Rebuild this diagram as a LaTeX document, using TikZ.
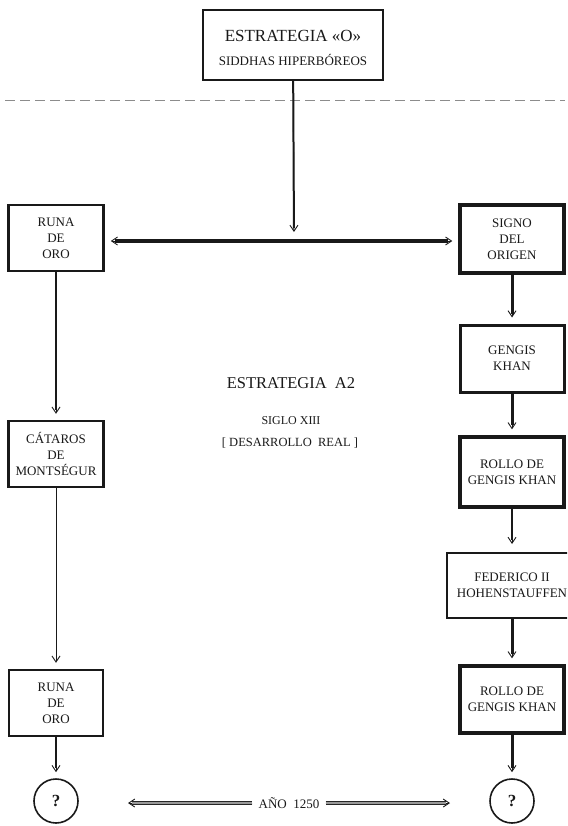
\documentclass[tikz,border=0pt]{standalone}
\usepackage{fontspec}
\setmainfont{Liberation Serif}
\usetikzlibrary{arrows.meta}
\begin{document}
\begin{tikzpicture}[x=1pt,y=-1pt,
  box/.style={draw=black!90, fill=white, inner sep=0pt, align=center, text=black!90,
              font=\fontsize{13}{16}\selectfont},
  txt/.style={inner sep=0pt, text=black!90, anchor=base},
  circ/.style={draw=black!90, circle, minimum size=44pt, inner sep=0pt, line width=1.6pt,
               text=black!90, font=\fontsize{17}{20}\selectfont\bfseries},
  arr/.style={draw=black!90, line width=0.9pt, -{Straight Barb[length=6pt,width=8pt]}, shorten >=6pt},
  bar/.style={draw=black!90, line width=#1, shorten >=10pt},
  dbl/.style={draw=black!85, double=black!40, double distance=1.5pt, line width=1pt, shorten >=4pt},
]
\useasboundingbox (0,0) rectangle (567,826);
\clip (0,0) rectangle (567,826);

% top box
\node[box, line width=2.4pt, minimum width=180pt, minimum height=70pt] (top) at (293,45) {};
\node[txt, font=\fontsize{17}{20}\selectfont] (topA) at (293,42) {ESTRATEGIA «O»};
\node[txt, font=\fontsize{13}{16}\selectfont] (topB) at (293,66) {SIDDHAS HIPERBÓREOS};

% dashed separator
\draw[black!45, line width=1pt, dash pattern=on 10pt off 5pt] (5,101) -- (565,101);

% left column
\node[box, line width=2.5pt, minimum width=95pt, minimum height=66pt] (runa1) at (56,238) {RUNA\\DE\\ORO};
\node[box, line width=2.5pt, minimum width=95pt, minimum height=66pt] (cataros) at (56,454) {CÁTAROS\\DE\\MONTSÉGUR};
\node[box, line width=2.5pt, minimum width=94pt, minimum height=66pt] (runa2) at (56,703) {RUNA\\DE\\ORO};
\node[circ] (qL) at (56,801) {?};

% right column
\node[box, line width=3.3pt, minimum width=104pt, minimum height=68pt] (signo) at (512,239) {SIGNO\\DEL\\ORIGEN};
\node[box, line width=3pt, minimum width=104pt, minimum height=67pt] (gengis) at (512,358.5) {GENGIS\\KHAN};
\node[box, line width=3.3pt, minimum width=104pt, minimum height=70pt] (rollo1) at (512,472) {ROLLO DE\\GENGIS KHAN};
\node[box, line width=2pt, minimum width=130pt, minimum height=65pt] (fed) at (512,585.5) {FEDERICO II\\HOHENSTAUFFEN};
\node[box, line width=3.3pt, minimum width=104pt, minimum height=67pt] (rollo2) at (512,699.5) {ROLLO DE\\GENGIS KHAN};
\node[circ] (qR) at (512,801) {?};

% centre texts
\node[txt, font=\fontsize{16.5}{20}\selectfont] (estA2) at (291,388.5) {ESTRATEGIA\ \ A2};
\node[txt, font=\fontsize{12}{14}\selectfont] (siglo) at (291,424) {SIGLO XIII};
\node[txt, font=\fontsize{12.5}{15}\selectfont] (desa) at (290,446) {[ DESARROLLO\ \ REAL ]};

% top vertical to horizontal
\coordinate (hc) at (294,241);
\draw[arr, shorten >=9pt] (top) -- (hc);
\draw[bar=2pt, shorten >=13pt] (top) -- (hc);

% horizontal double arrow
\coordinate (hl) at (runa1.east |- hc);
\coordinate (hr) at (signo.west |- hc);
\draw[draw=black!90, line width=0.9pt, {Straight Barb[length=6pt,width=8pt]}-{Straight Barb[length=6pt,width=8pt]},
      shorten <=6pt, shorten >=6pt] (hl) -- (hr);
\draw[draw=black!90, line width=3.5pt, shorten <=10pt, shorten >=10pt] (hl) -- (hr);

% left connectors
\draw[arr] (runa1) -- (cataros);
\draw[bar=2.5pt] (runa1) -- (cataros);
\draw[arr] (cataros) -- (runa2);
\draw[arr] (runa2) -- (qL);
\draw[bar=1.5pt] (runa2) -- (qL);

% right connectors
\draw[arr] (signo) -- (gengis);
\draw[bar=3pt] (signo) -- (gengis);
\draw[arr] (gengis) -- (rollo1);
\draw[bar=3pt] (gengis) -- (rollo1);
\draw[arr, shorten >=8pt] (rollo1) -- (fed);
\draw[bar=2pt, shorten >=12pt] (rollo1) -- (fed);
\draw[arr] (fed) -- (rollo2);
\draw[bar=3pt] (fed) -- (rollo2);
\draw[arr] (rollo2) -- (qR);
\draw[bar=3pt] (rollo2) -- (qR);

% bottom year arrow
\node[inner sep=6pt, text=black!90, font=\fontsize{13}{16}\selectfont] (year) at (289,803) {AÑO\ \ 1250};
\coordinate (bl) at (128,803);
\coordinate (br) at (450,803);
\draw[arr, shorten >=0pt] (year.west) -- (bl);
\draw[arr, shorten >=0pt] (year.east) -- (br);
\draw[dbl] (year.west) -- (bl);
\draw[dbl] (year.east) -- (br);
\end{tikzpicture}
\end{document}
